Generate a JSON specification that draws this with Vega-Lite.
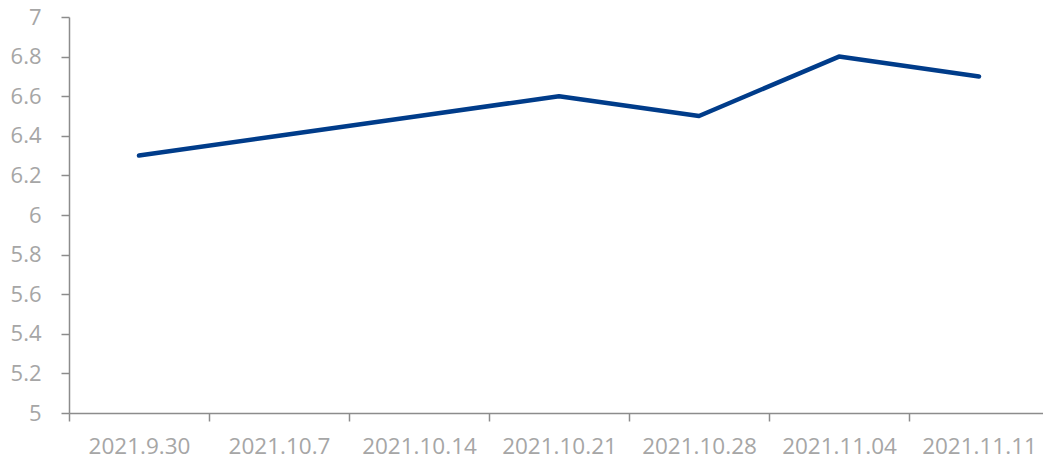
{
  "$schema": "https://vega.github.io/schema/vega-lite/v6.json",
  "autosize": "none",
  "width": 980,
  "height": 396,
  "padding": {"left": 69, "top": 17, "right": 0, "bottom": 46},
  "background": "white",
  "config": {"view": {"stroke": null}, "font": "Open Sans"},
  "data": {"values": [
    {"date": "2021.9.30", "value": 6.3},
    {"date": "2021.10.7", "value": 6.4},
    {"date": "2021.10.14", "value": 6.5},
    {"date": "2021.10.21", "value": 6.6},
    {"date": "2021.10.28", "value": 6.5},
    {"date": "2021.11.04", "value": 6.8},
    {"date": "2021.11.11", "value": 6.7}
  ]},
  "mark": {"type": "line", "color": "#003c8a", "strokeWidth": 4.5, "strokeCap": "round", "strokeJoin": "round"},
  "encoding": {
    "x": {
      "field": "date", "type": "ordinal", "sort": null, "bandPosition": 0.5,
      "scale": {"type": "band", "paddingInner": 0, "paddingOuter": 0},
      "axis": {"title": null, "labelAngle": 0, "tickBand": "extent", "domainColor": "#8c8c8c", "domainWidth": 1.5, "tickColor": "#8c8c8c", "tickWidth": 1.5, "tickSize": 8, "labelColor": "#a6a6a6", "labelFontSize": 22.5, "labelPadding": 14, "grid": false}
    },
    "y": {
      "field": "value", "type": "quantitative",
      "scale": {"domain": [5, 7], "nice": false, "zero": false},
      "axis": {"title": null, "values": [5, 5.2, 5.4, 5.6, 5.8, 6, 6.2, 6.4, 6.6, 6.8, 7], "format": ".1~f", "grid": false, "domainColor": "#8c8c8c", "domainWidth": 1.5, "tickColor": "#8c8c8c", "tickWidth": 1.5, "tickSize": 8, "labelColor": "#a6a6a6", "labelFontSize": 22, "labelPadding": 20}
    }
  }
}
